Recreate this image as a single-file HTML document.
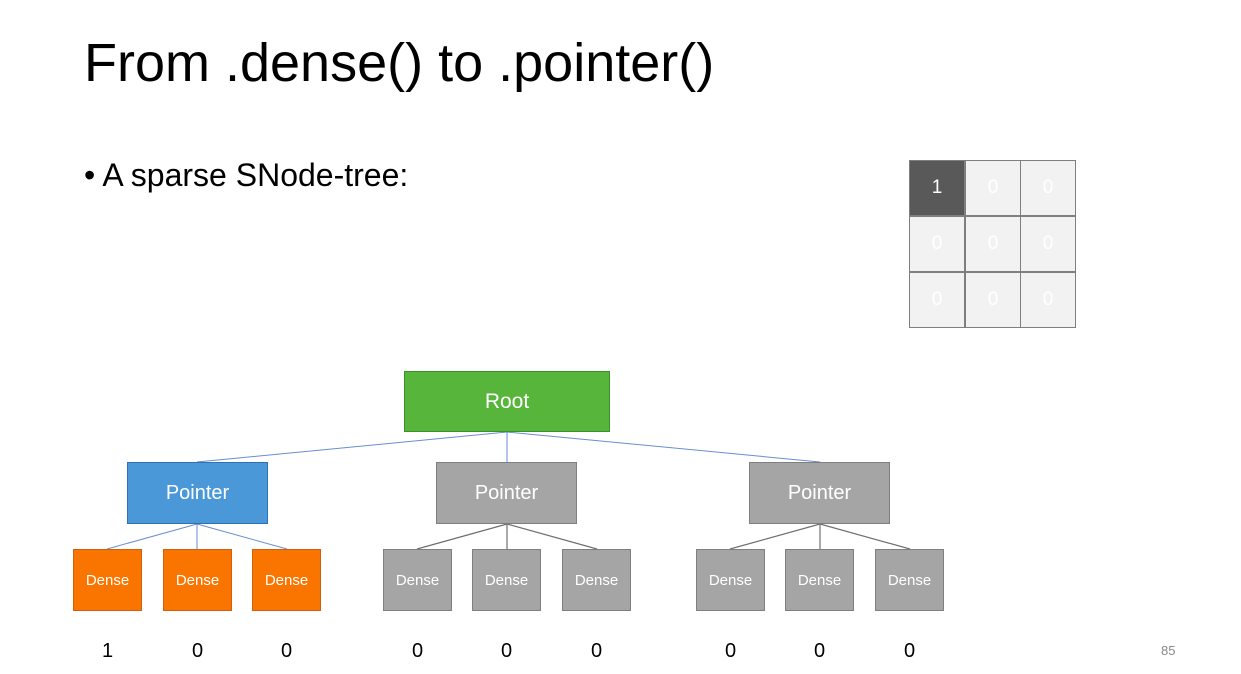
<!DOCTYPE html>
<html><head><meta charset="utf-8"><style>
body{margin:0;width:1241px;height:674px;background:#fff;position:relative;overflow:hidden;font-family:"Liberation Sans",sans-serif}
.t{position:absolute;white-space:nowrap}
.b{position:absolute;box-sizing:border-box;display:flex;align-items:center;justify-content:center;color:#fff}
.g{background:#a5a5a5;border:1.5px solid #7f7f7f}
.o{background:#fa7500;border:1.5px solid #d06010}
.d{font-size:15px;width:69px;height:62px;top:549px}
.p{font-size:20px;width:141px;height:62px;top:462px}
.n{position:absolute;top:640px;width:69px;text-align:center;font-size:20px;color:#000}
.c{position:absolute;width:56px;height:56px;box-sizing:border-box;border:1.5px solid #7f7f7f;background:#f2f2f2;color:#fff;font-size:19px;display:flex;align-items:center;justify-content:center}
</style></head><body>
<div class="t" style="left:84px;top:32px;font-size:54px;color:#000">From .dense() to .pointer()</div>
<div class="t" style="left:84px;top:157px;font-size:32px;color:#000">• A sparse SNode-tree:</div>
<svg style="position:absolute;left:0;top:0" width="1241" height="674">
<g stroke="#4472c4" stroke-width="1" opacity="0.8">
<line x1="507" y1="432" x2="197" y2="462"/><line x1="507" y1="432" x2="507" y2="462"/><line x1="507" y1="432" x2="820" y2="462"/>
<line x1="197" y1="524" x2="107" y2="549"/><line x1="197" y1="524" x2="197" y2="549"/><line x1="197" y1="524" x2="287" y2="549"/>
</g>
<g stroke="#707070" stroke-width="1.2">
<line x1="507" y1="524" x2="417" y2="549"/><line x1="507" y1="524" x2="507" y2="549"/><line x1="507" y1="524" x2="597" y2="549"/>
<line x1="820" y1="524" x2="730" y2="549"/><line x1="820" y1="524" x2="820" y2="549"/><line x1="820" y1="524" x2="910" y2="549"/>
</g></svg>
<div class="b" style="left:404px;top:371px;width:206px;height:61px;background:#56b53a;border:1.5px solid #3d8f2a;font-size:21px">Root</div>
<div class="b p" style="left:127px;background:#4a98d8;border:1.5px solid #2f70b0">Pointer</div>
<div class="b p g" style="left:436px">Pointer</div>
<div class="b p g" style="left:749px">Pointer</div>
<div class="b d o" style="left:73px">Dense</div><div class="b d o" style="left:163px">Dense</div><div class="b d o" style="left:252px">Dense</div>
<div class="b d g" style="left:383px">Dense</div><div class="b d g" style="left:472px">Dense</div><div class="b d g" style="left:562px">Dense</div>
<div class="b d g" style="left:696px">Dense</div><div class="b d g" style="left:785px">Dense</div><div class="b d g" style="left:875px">Dense</div>
<div class="n" style="left:73px">1</div><div class="n" style="left:163px">0</div><div class="n" style="left:252px">0</div>
<div class="n" style="left:383px">0</div><div class="n" style="left:472px">0</div><div class="n" style="left:562px">0</div>
<div class="n" style="left:696px">0</div><div class="n" style="left:785px">0</div><div class="n" style="left:875px">0</div>
<div class="c" style="left:909px;top:160px;background:#595959">1</div><div class="c" style="left:965px;top:160px">0</div><div class="c" style="left:1020px;top:160px">0</div>
<div class="c" style="left:909px;top:216px">0</div><div class="c" style="left:965px;top:216px">0</div><div class="c" style="left:1020px;top:216px">0</div>
<div class="c" style="left:909px;top:272px">0</div><div class="c" style="left:965px;top:272px">0</div><div class="c" style="left:1020px;top:272px">0</div>
<div class="t" style="left:1161px;top:643px;font-size:13px;color:#888">85</div>
</body></html>
